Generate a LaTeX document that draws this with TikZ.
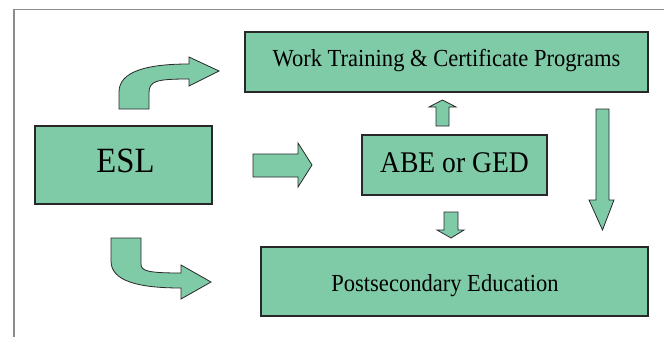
\documentclass[tikz,border=0pt]{standalone}
\usepackage{fontspec}
\setmainfont{Liberation Serif}[FakeStretch=0.92]
\definecolor{boxgreen}{RGB}{128,203,167}
\definecolor{edgegray}{RGB}{40,40,40}
\definecolor{framegray}{RGB}{140,140,140}
\begin{document}
\begin{tikzpicture}[x=1pt,y=-1pt,
  box/.style={draw=edgegray,fill=boxgreen,line width=1.1pt,inner sep=0pt,text depth=0pt},
  blockarrow/.style={draw=edgegray,fill=boxgreen,line width=0.8pt,line join=miter}]
\useasboundingbox (0,0) rectangle (664,337);
\fill[white] (0,0) rectangle (664,337);
% frame
\draw[framegray,line width=1.5pt] (14,337) -- (14,9.5) -- (664,9.5);
% boxes
\node[box,minimum width=403pt,minimum height=60pt,text height=9.4pt,font=\fontsize{24.5}{26}\selectfont] (work) at (446.5,62) {Work Training \& Certificate Programs};
\node[box,minimum width=177pt,minimum height=78pt,text height=15.4pt,font=\fontsize{35.5}{38}\selectfont] (esl) at (123.5,165) {\hspace*{4pt}ESL};
\node[box,minimum width=185pt,minimum height=60pt,text height=15.4pt,font=\fontsize{30}{32}\selectfont] (abe) at (454.5,165) {ABE or GED};
\node[box,minimum width=387pt,minimum height=69pt,text height=20.4pt,font=\fontsize{24.5}{26}\selectfont] (post) at (454.5,281.5) {\hspace*{-19pt}Postsecondary Education};
% ESL -> ABE
\draw[blockarrow] (253,154) -- (298,154) -- (298,143) -- (312,165) -- (298,187) -- (298,177) -- (253,177) -- cycle;
% ABE -> Work (up)
\draw[blockarrow] (436,126) -- (436,107) -- (429,107) -- (442.5,100) -- (456,107) -- (449,107) -- (449,126) -- cycle;
% ABE -> Post (down)
\draw[blockarrow] (444,212) -- (458,212) -- (458,230) -- (464,230) -- (451,238) -- (437,230) -- (444,230) -- cycle;
% Work -> Post (long down)
\draw[blockarrow] (596,109) -- (609,109) -- (609,200) -- (614,200) -- (602.5,230) -- (589,200) -- (596,200) -- cycle;
% ESL -> Work (curved up)
\draw[blockarrow] (119,109) -- (119,92) .. controls (119,71) and (148,64) .. (189,64) -- (189,57) -- (219,71) -- (189,86) -- (189,79) .. controls (156,79) and (149,81) .. (149,93) -- (149,109) -- cycle;
% ESL -> Post (curved down)
\draw[blockarrow] (111,238) -- (141,238) -- (141,264) .. controls (141,271) and (148,273) .. (181,273) -- (181,265) -- (211,282) -- (181,299) -- (181,288) .. controls (138,288) and (111,281) .. (111,261) -- cycle;
\end{tikzpicture}
\end{document}
